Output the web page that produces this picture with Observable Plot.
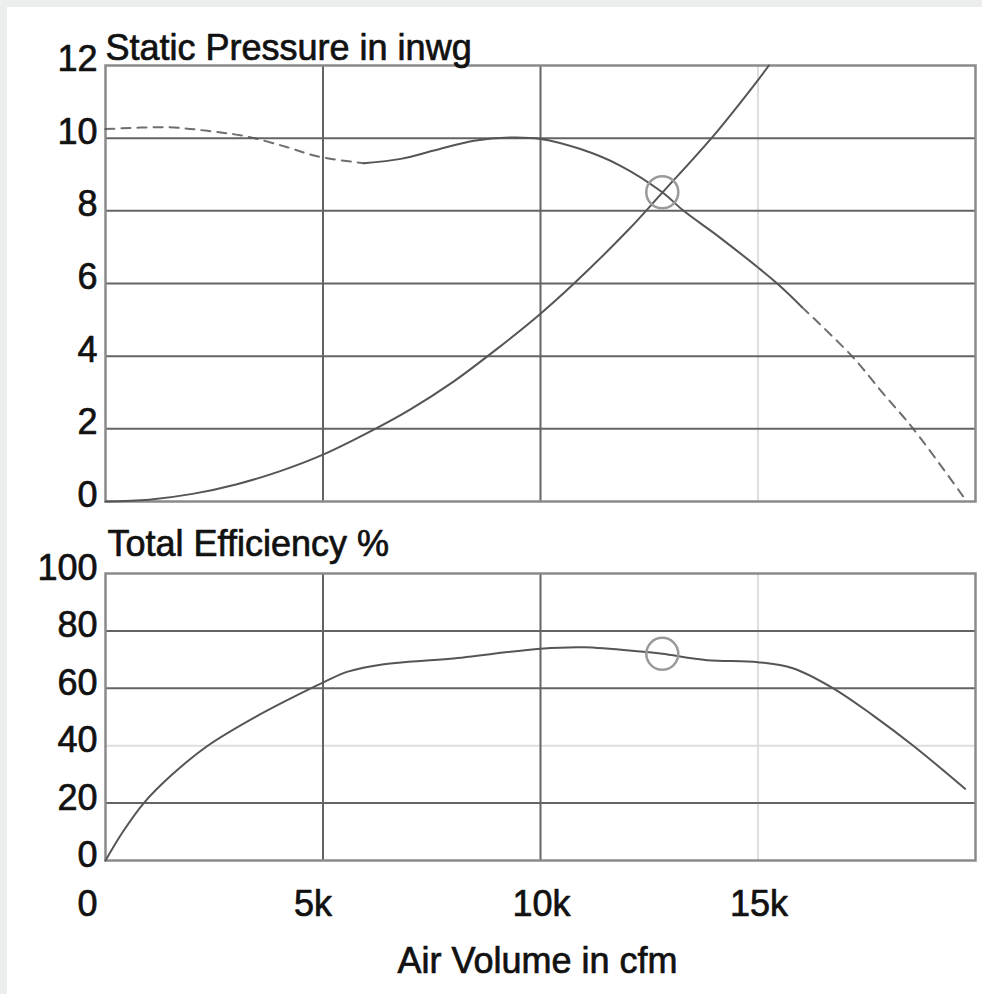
<!DOCTYPE html>
<html>
<head>
<meta charset="utf-8">
<script src="https://cdn.jsdelivr.net/npm/d3@7"></script>
<script src="https://cdn.jsdelivr.net/npm/@observablehq/plot@0.6"></script>
<style>
  html, body { margin: 0; padding: 0; }
  body { background: #eceeee; width: 982px; height: 994px; position: relative; overflow: hidden; font-family: "Liberation Sans", Arial, sans-serif; }
  #panel { position: absolute; left: 7px; top: 7px; right: 0; bottom: 0; background: #ffffff; }
  #top, #bottom { position: absolute; left: 0; }
  #top { top: 0; }
  #bottom { top: 520px; }
</style>
</head>
<body>
<div id="panel"></div>
<div id="top"></div>
<div id="bottom"></div>
<script>
// ---- Data ----
const flowTicks = [0, 5000, 10000, 15000];
const flowTickLabels = ["0", "5k", "10k", "15k"];
const flowGridDark = [5000, 10000];
const flowGridLight = [15000];

const pressureTicks = [0, 2, 4, 6, 8, 10, 12];
const pressureGrid = [2, 4, 6, 8, 10];

const effTicks = [0, 20, 40, 60, 80, 100];
const effGridDark = [20, 60, 80];
const effGridLight = [40];

// System resistance curve
const systemFlow = [0, 1000, 2000, 3000, 4000, 5000, 6200, 7000, 8000, 9000, 10000, 10770, 12000, 12800, 14000, 15000, 15250];
const systemPressure = [0, 0.05, 0.21, 0.47, 0.83, 1.29, 2.0, 2.53, 3.3, 4.2, 5.17, 6.0, 7.45, 8.5, 10.1, 11.6, 12.0];

// Fan curve: dashed (left), solid (middle), dashed (right)
const fanFlowLeft = [0, 1430, 2420, 3270, 4180, 4870, 5940];
const fanPressureLeft = [10.25, 10.3, 10.19, 10.04, 9.75, 9.5, 9.31];
const fanFlowMid = [5940, 6790, 7550, 8470, 9310, 10000, 10920, 11840, 12800, 13290, 14140, 15440, 16010];
const fanPressureMid = [9.31, 9.43, 9.66, 9.93, 10.02, 9.98, 9.70, 9.24, 8.51, 8.0, 7.25, 6.0, 5.35];
const fanFlowRight = [16010, 17160, 17880, 18570, 19800];
const fanPressureRight = [5.35, 4.0, 2.97, 2.0, 0];

// Total efficiency curve
const effFlow = [0, 400, 880, 1500, 2350, 3500, 4720, 5000, 5570, 6400, 7930, 10000, 11000, 12300, 12800, 13830, 15000, 15800, 16730, 17650, 18570, 19760];
const effValue = [0, 10, 20, 29.5, 40, 50.5, 60, 62, 65.8, 68.4, 70.3, 73.8, 74.3, 72.8, 72, 69.8, 69.1, 67, 60, 50.5, 40, 25];

// Operating point
const opFlow = [12800];
const opPressure = [8.51];
const opEff = [72];

const titleTop = "Static Pressure in inwg";
const titleBottom = "Total Efficiency %";
const xTitle = "Air Volume in cfm";

// ---- Styles ----
const FONT = "Liberation Sans, Arial, sans-serif";
const FS = 36;
const TXT = "#111111";
const TXT_STROKE = {stroke: "#111111", strokeWidth: 0.7};
const GRID = "#646464";
const GRID_LIGHT = "#dedede";
const FRAME = "#8a8a8a";
const CURVE = "#555555";
const xDomain = [0, 20000];

const topPlot = Plot.plot({
  width: 982, height: 520,
  marginLeft: 105, marginRight: 7, marginTop: 65, marginBottom: 19,
  style: {background: "transparent", overflow: "visible"},
  x: {domain: xDomain, axis: null},
  y: {domain: [0, 12], axis: null},
  marks: [
    Plot.ruleX(flowGridLight, {stroke: GRID_LIGHT, strokeWidth: 2}),
    Plot.ruleX(flowGridDark, {stroke: GRID, strokeWidth: 2}),
    Plot.ruleY(pressureGrid, {stroke: GRID, strokeWidth: 2}),
    Plot.frame({stroke: FRAME, strokeWidth: 2.5}),
    Plot.line(systemFlow, {x: systemFlow, y: systemPressure, curve: "catmull-rom", stroke: CURVE, strokeWidth: 2}),
    Plot.line(fanFlowLeft, {x: fanFlowLeft, y: fanPressureLeft, curve: "catmull-rom", stroke: CURVE, strokeWidth: 2, strokeDasharray: "9,7", strokeOpacity: 0.85}),
    Plot.line(fanFlowMid, {x: fanFlowMid, y: fanPressureMid, curve: "catmull-rom", stroke: CURVE, strokeWidth: 2}),
    Plot.line(fanFlowRight, {x: fanFlowRight, y: fanPressureRight, curve: "catmull-rom", stroke: CURVE, strokeWidth: 2, strokeDasharray: "9,7", strokeOpacity: 0.85}),
    Plot.dot(opFlow, {x: opFlow, y: opPressure, r: 16, stroke: "#9a9a9a", strokeWidth: 2.5, fill: "none"}),
    Plot.text(pressureTicks, {frameAnchor: "left", y: d => d, text: d => String(d), textAnchor: "end", lineAnchor: "middle", dx: -8, dy: -6, fontSize: FS, fontFamily: FONT, fill: TXT, ...TXT_STROKE}),
    Plot.text([titleTop], {frameAnchor: "top-left", text: d => d, textAnchor: "start", lineAnchor: "middle", dx: 0, dy: -17, fontSize: FS, fontFamily: FONT, fill: TXT, ...TXT_STROKE})
  ]
});
document.getElementById("top").appendChild(topPlot);

const bottomPlot = Plot.plot({
  width: 982, height: 474,
  marginLeft: 105, marginRight: 7, marginTop: 53, marginBottom: 134,
  style: {background: "transparent", overflow: "visible"},
  x: {domain: xDomain, axis: null},
  y: {domain: [0, 100], axis: null},
  marks: [
    Plot.ruleX(flowGridLight, {stroke: GRID_LIGHT, strokeWidth: 2}),
    Plot.ruleY(effGridLight, {stroke: GRID_LIGHT, strokeWidth: 2}),
    Plot.ruleX(flowGridDark, {stroke: GRID, strokeWidth: 2}),
    Plot.ruleY(effGridDark, {stroke: GRID, strokeWidth: 2}),
    Plot.frame({stroke: FRAME, strokeWidth: 2.5}),
    Plot.line(effFlow, {x: effFlow, y: effValue, curve: "catmull-rom", stroke: CURVE, strokeWidth: 2}),
    Plot.dot(opFlow, {x: opFlow, y: opEff, r: 16, stroke: "#9a9a9a", strokeWidth: 2.5, fill: "none"}),
    Plot.text(effTicks, {frameAnchor: "left", y: d => d, text: d => String(d), textAnchor: "end", lineAnchor: "middle", dx: -8, dy: -5, fontSize: FS, fontFamily: FONT, fill: TXT, ...TXT_STROKE}),
    Plot.text([titleBottom], {frameAnchor: "top-left", text: d => d, textAnchor: "start", lineAnchor: "middle", dx: 2, dy: -29, fontSize: FS, fontFamily: FONT, fill: TXT, ...TXT_STROKE}),
    // x tick labels
    Plot.text(flowTicks.slice(0, 1), {x: d => d, frameAnchor: "bottom", text: () => flowTickLabels[0], textAnchor: "middle", lineAnchor: "middle", dx: -18, dy: 44, fontSize: FS, fontFamily: FONT, fill: TXT, ...TXT_STROKE}),
    Plot.text(flowTicks.slice(1, 2), {x: d => d, frameAnchor: "bottom", text: () => flowTickLabels[1], textAnchor: "middle", lineAnchor: "middle", dx: -10, dy: 44, fontSize: FS, fontFamily: FONT, fill: TXT, ...TXT_STROKE}),
    Plot.text(flowTicks.slice(2), {x: d => d, frameAnchor: "bottom", text: (d, i) => flowTickLabels[i + 2], textAnchor: "middle", lineAnchor: "middle", dx: 1, dy: 44, fontSize: FS, fontFamily: FONT, fill: TXT, ...TXT_STROKE}),
    Plot.text([xTitle], {frameAnchor: "bottom", text: d => d, textAnchor: "middle", lineAnchor: "middle", dx: -3, dy: 101, fontSize: FS, fontFamily: FONT, fill: TXT, ...TXT_STROKE})
  ]
});
document.getElementById("bottom").appendChild(bottomPlot);
</script>
</body>
</html>
